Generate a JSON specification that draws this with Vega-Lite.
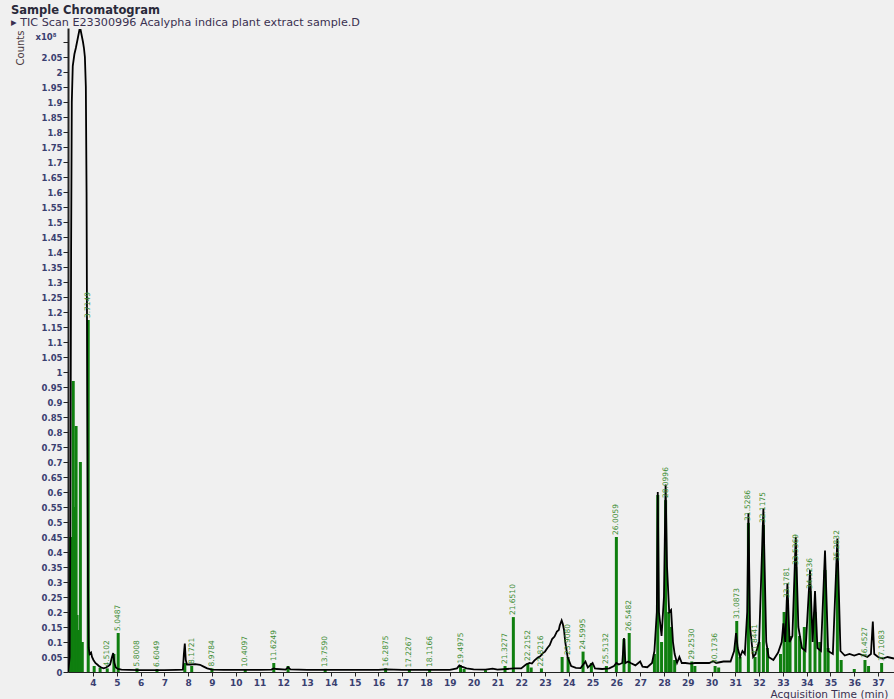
{
  "$schema": "https://vega.github.io/schema/vega-lite/v6.json",
  "width": 826,
  "height": 644,
  "autosize": {"type": "none"},
  "padding": {"left": 68, "top": 28, "right": 0, "bottom": 27},
  "background": "#f0f0f0",
  "title": {
    "text": "Sample Chromatogram",
    "subtitle": "▸ TIC Scan E23300996 Acalypha indica plant extract sample.D",
    "anchor": "start",
    "frame": "group",
    "dx": -57,
    "offset": 0,
    "font": "DejaVu Sans",
    "fontSize": 11.5,
    "fontWeight": "bold",
    "color": "#2a2a3a",
    "subtitleFont": "DejaVu Sans",
    "subtitleFontSize": 11.2,
    "subtitleColor": "#3a3050",
    "subtitlePadding": 0
  },
  "config": {
    "view": {"stroke": null},
    "axis": {"grid": false, "domainColor": "#222222", "tickColor": "#222222"}
  },
  "datasets": {
    "tic": [
      {"t": 2.96, "v": 0.0}, {"t": 3.02, "v": 0.05}, {"t": 3.05, "v": 0.5}, {"t": 3.08, "v": 1.4},
      {"t": 3.11, "v": 1.9}, {"t": 3.15, "v": 2.02}, {"t": 3.22, "v": 2.06}, {"t": 3.28, "v": 2.08},
      {"t": 3.33, "v": 2.1}, {"t": 3.38, "v": 2.12}, {"t": 3.43, "v": 2.14}, {"t": 3.48, "v": 2.14},
      {"t": 3.53, "v": 2.12}, {"t": 3.58, "v": 2.1}, {"t": 3.62, "v": 2.08}, {"t": 3.66, "v": 2.05},
      {"t": 3.7, "v": 1.95}, {"t": 3.73, "v": 1.6}, {"t": 3.76, "v": 0.9}, {"t": 3.79, "v": 0.3},
      {"t": 3.82, "v": 0.08}, {"t": 3.86, "v": 0.06}, {"t": 3.92, "v": 0.065}, {"t": 3.96, "v": 0.05},
      {"t": 4.02, "v": 0.04}, {"t": 4.1, "v": 0.03}, {"t": 4.18, "v": 0.025}, {"t": 4.25, "v": 0.02},
      {"t": 4.35, "v": 0.015}, {"t": 4.45, "v": 0.012}, {"t": 4.55, "v": 0.015}, {"t": 4.65, "v": 0.02},
      {"t": 4.72, "v": 0.025}, {"t": 4.8, "v": 0.05}, {"t": 4.85, "v": 0.063}, {"t": 4.9, "v": 0.03},
      {"t": 4.96, "v": 0.015}, {"t": 5.05, "v": 0.01}, {"t": 5.2, "v": 0.008}, {"t": 5.5, "v": 0.007},
      {"t": 6.0, "v": 0.006}, {"t": 6.5, "v": 0.006}, {"t": 7.0, "v": 0.006}, {"t": 7.5, "v": 0.007},
      {"t": 7.78, "v": 0.008}, {"t": 7.82, "v": 0.06}, {"t": 7.86, "v": 0.095}, {"t": 7.9, "v": 0.04},
      {"t": 7.95, "v": 0.025}, {"t": 8.1, "v": 0.025}, {"t": 8.3, "v": 0.026}, {"t": 8.5, "v": 0.024},
      {"t": 8.65, "v": 0.018}, {"t": 8.8, "v": 0.012}, {"t": 9.0, "v": 0.008}, {"t": 9.5, "v": 0.007},
      {"t": 10.0, "v": 0.007}, {"t": 10.5, "v": 0.007}, {"t": 11.0, "v": 0.007}, {"t": 11.5, "v": 0.008},
      {"t": 11.6, "v": 0.012}, {"t": 11.7, "v": 0.01}, {"t": 12.1, "v": 0.008}, {"t": 12.2, "v": 0.016},
      {"t": 12.3, "v": 0.009}, {"t": 13.0, "v": 0.007}, {"t": 14.0, "v": 0.007}, {"t": 15.0, "v": 0.007},
      {"t": 16.0, "v": 0.007}, {"t": 16.3, "v": 0.009}, {"t": 17.0, "v": 0.007}, {"t": 18.0, "v": 0.007},
      {"t": 19.0, "v": 0.007}, {"t": 19.3, "v": 0.012}, {"t": 19.4, "v": 0.022}, {"t": 19.5, "v": 0.018},
      {"t": 19.7, "v": 0.012}, {"t": 20.0, "v": 0.009}, {"t": 20.5, "v": 0.008}, {"t": 20.8, "v": 0.011},
      {"t": 21.0, "v": 0.008}, {"t": 21.4, "v": 0.01}, {"t": 21.7, "v": 0.012}, {"t": 22.0, "v": 0.012},
      {"t": 22.2, "v": 0.025}, {"t": 22.35, "v": 0.03}, {"t": 22.45, "v": 0.028}, {"t": 22.55, "v": 0.038},
      {"t": 22.7, "v": 0.048}, {"t": 22.8, "v": 0.052}, {"t": 22.9, "v": 0.062}, {"t": 23.0, "v": 0.068},
      {"t": 23.1, "v": 0.08}, {"t": 23.2, "v": 0.09}, {"t": 23.3, "v": 0.11}, {"t": 23.4, "v": 0.118},
      {"t": 23.5, "v": 0.135}, {"t": 23.58, "v": 0.14}, {"t": 23.62, "v": 0.155}, {"t": 23.7, "v": 0.172},
      {"t": 23.75, "v": 0.16}, {"t": 23.8, "v": 0.14}, {"t": 23.85, "v": 0.1}, {"t": 23.95, "v": 0.05},
      {"t": 24.1, "v": 0.02}, {"t": 24.3, "v": 0.014}, {"t": 24.5, "v": 0.013}, {"t": 24.7, "v": 0.035},
      {"t": 24.8, "v": 0.015}, {"t": 25.0, "v": 0.03}, {"t": 25.1, "v": 0.012}, {"t": 25.4, "v": 0.01},
      {"t": 25.7, "v": 0.012}, {"t": 25.9, "v": 0.02}, {"t": 26.0, "v": 0.03}, {"t": 26.1, "v": 0.025},
      {"t": 26.25, "v": 0.03}, {"t": 26.32, "v": 0.113}, {"t": 26.38, "v": 0.03}, {"t": 26.5, "v": 0.035},
      {"t": 26.6, "v": 0.03}, {"t": 26.8, "v": 0.022}, {"t": 27.0, "v": 0.035}, {"t": 27.1, "v": 0.018},
      {"t": 27.3, "v": 0.016}, {"t": 27.5, "v": 0.03}, {"t": 27.6, "v": 0.07}, {"t": 27.7, "v": 0.2},
      {"t": 27.74, "v": 0.6}, {"t": 27.79, "v": 0.2}, {"t": 27.9, "v": 0.12}, {"t": 28.0, "v": 0.25},
      {"t": 28.07, "v": 0.625}, {"t": 28.13, "v": 0.35}, {"t": 28.22, "v": 0.2}, {"t": 28.3, "v": 0.207},
      {"t": 28.38, "v": 0.1}, {"t": 28.45, "v": 0.06}, {"t": 28.55, "v": 0.03}, {"t": 28.65, "v": 0.05},
      {"t": 28.75, "v": 0.03}, {"t": 28.9, "v": 0.03}, {"t": 29.1, "v": 0.028}, {"t": 29.3, "v": 0.03},
      {"t": 29.6, "v": 0.03}, {"t": 29.9, "v": 0.03}, {"t": 30.07, "v": 0.036}, {"t": 30.2, "v": 0.03},
      {"t": 30.5, "v": 0.035}, {"t": 30.8, "v": 0.035}, {"t": 30.95, "v": 0.07}, {"t": 31.03, "v": 0.13},
      {"t": 31.1, "v": 0.08}, {"t": 31.2, "v": 0.05}, {"t": 31.3, "v": 0.07}, {"t": 31.4, "v": 0.06},
      {"t": 31.5, "v": 0.2}, {"t": 31.55, "v": 0.53}, {"t": 31.62, "v": 0.15}, {"t": 31.75, "v": 0.05},
      {"t": 31.85, "v": 0.06}, {"t": 32.0, "v": 0.1}, {"t": 32.18, "v": 0.545}, {"t": 32.3, "v": 0.1},
      {"t": 32.4, "v": 0.05}, {"t": 32.6, "v": 0.04}, {"t": 32.8, "v": 0.065}, {"t": 32.95, "v": 0.1},
      {"t": 33.02, "v": 0.162}, {"t": 33.1, "v": 0.1}, {"t": 33.19, "v": 0.295}, {"t": 33.28, "v": 0.1},
      {"t": 33.4, "v": 0.12}, {"t": 33.54, "v": 0.45}, {"t": 33.65, "v": 0.15}, {"t": 33.8, "v": 0.08},
      {"t": 33.95, "v": 0.07}, {"t": 34.14, "v": 0.34}, {"t": 34.25, "v": 0.1}, {"t": 34.35, "v": 0.27},
      {"t": 34.45, "v": 0.08}, {"t": 34.6, "v": 0.07}, {"t": 34.77, "v": 0.405}, {"t": 34.9, "v": 0.07},
      {"t": 35.1, "v": 0.06}, {"t": 35.29, "v": 0.445}, {"t": 35.42, "v": 0.07}, {"t": 35.6, "v": 0.055},
      {"t": 35.8, "v": 0.06}, {"t": 36.0, "v": 0.055}, {"t": 36.2, "v": 0.06}, {"t": 36.4, "v": 0.055},
      {"t": 36.55, "v": 0.05}, {"t": 36.7, "v": 0.06}, {"t": 36.78, "v": 0.168}, {"t": 36.84, "v": 0.06},
      {"t": 37.0, "v": 0.05}, {"t": 37.2, "v": 0.045}, {"t": 37.4, "v": 0.05}, {"t": 37.67, "v": 0.045}
    ],
    "peaks": [
      {"t": 3.06, "v": 0.45}, {"t": 3.17, "v": 0.97}, {"t": 3.22, "v": 0.55}, {"t": 3.29, "v": 0.82},
      {"t": 3.33, "v": 0.19}, {"t": 3.4, "v": 0.14}, {"t": 3.47, "v": 0.7}, {"t": 3.55, "v": 0.1},
      {"t": 3.8, "v": 1.173, "label": "3.7149"},
      {"t": 4.05, "v": 0.02}, {"t": 4.3, "v": 0.015}, {"t": 4.6, "v": 0.012, "label": "4.5102"},
      {"t": 4.88, "v": 0.06}, {"t": 5.06, "v": 0.13, "label": "5.0487"},
      {"t": 5.85, "v": 0.012, "label": "5.8008"}, {"t": 6.69, "v": 0.01, "label": "6.6049"},
      {"t": 7.86, "v": 0.03}, {"t": 8.15, "v": 0.02, "label": "8.1721"},
      {"t": 9.0, "v": 0.012, "label": "8.9784"}, {"t": 10.4, "v": 0.01, "label": "10.4097"},
      {"t": 11.6, "v": 0.03, "label": "11.6249"}, {"t": 12.2, "v": 0.02},
      {"t": 13.76, "v": 0.01, "label": "13.7590"}, {"t": 16.3, "v": 0.012, "label": "16.2875"},
      {"t": 17.3, "v": 0.008, "label": "17.2267"}, {"t": 18.15, "v": 0.01, "label": "18.1166"},
      {"t": 19.45, "v": 0.022, "label": "19.4975"}, {"t": 19.6, "v": 0.01}, {"t": 20.5, "v": 0.006},
      {"t": 21.32, "v": 0.02, "label": "21.3277"}, {"t": 21.67, "v": 0.183, "label": "21.6510"},
      {"t": 22.28, "v": 0.03, "label": "22.2152"}, {"t": 22.42, "v": 0.015},
      {"t": 22.85, "v": 0.012, "label": "22.8216"}, {"t": 23.72, "v": 0.05},
      {"t": 23.97, "v": 0.05, "label": "23.9080"}, {"t": 24.6, "v": 0.068, "label": "24.5995"},
      {"t": 24.95, "v": 0.03}, {"t": 25.58, "v": 0.02, "label": "25.5132"},
      {"t": 26.0, "v": 0.45, "label": "26.0059"}, {"t": 26.32, "v": 0.11},
      {"t": 26.54, "v": 0.13, "label": "26.5482"}, {"t": 27.6, "v": 0.06}, {"t": 27.74, "v": 0.59},
      {"t": 27.9, "v": 0.1}, {"t": 28.07, "v": 0.573, "label": "28.0996"}, {"t": 28.2, "v": 0.2},
      {"t": 28.3, "v": 0.15}, {"t": 28.45, "v": 0.04}, {"t": 29.17, "v": 0.035, "label": "29.2530"},
      {"t": 29.3, "v": 0.02}, {"t": 30.15, "v": 0.02, "label": "30.1736"}, {"t": 30.3, "v": 0.015},
      {"t": 31.06, "v": 0.17, "label": "31.0873"}, {"t": 31.2, "v": 0.05},
      {"t": 31.55, "v": 0.497, "label": "31.5286"}, {"t": 31.83, "v": 0.05, "label": "31.8441"},
      {"t": 32.0, "v": 0.1}, {"t": 32.18, "v": 0.49, "label": "32.1175"}, {"t": 32.35, "v": 0.08},
      {"t": 32.9, "v": 0.06}, {"t": 33.05, "v": 0.2}, {"t": 33.19, "v": 0.24, "label": "33.1781"},
      {"t": 33.3, "v": 0.12}, {"t": 33.54, "v": 0.35, "label": "33.5369"}, {"t": 33.7, "v": 0.12},
      {"t": 33.9, "v": 0.15}, {"t": 34.14, "v": 0.27, "label": "34.1236"}, {"t": 34.35, "v": 0.2},
      {"t": 34.55, "v": 0.1}, {"t": 34.77, "v": 0.34}, {"t": 34.9, "v": 0.08},
      {"t": 35.29, "v": 0.363, "label": "35.2832"}, {"t": 35.45, "v": 0.04}, {"t": 36.0, "v": 0.01},
      {"t": 36.45, "v": 0.04, "label": "36.4527"}, {"t": 36.6, "v": 0.02},
      {"t": 37.15, "v": 0.03, "label": "37.1083"}
    ]
  },
  "encoding": {
    "x": {
      "field": "t",
      "type": "quantitative",
      "scale": {"domain": [2.95, 37.67], "nice": false, "zero": false},
      "axis": {
        "values": [4,5,6,7,8,9,10,11,12,13,14,15,16,17,18,19,20,21,22,23,24,25,26,27,28,29,30,31,32,33,34,35,36,37],
        "title": "Acquisition Time (min)",
        "titleFont": "DejaVu Sans",
        "titleFontSize": 10.5,
        "titleFontWeight": "normal",
        "titleColor": "#3a3050",
        "titleX": 702,
        "titleY": 22,
        "titleAlign": "left",
        "titleBaseline": "middle",
        "labelFont": "DejaVu Sans",
        "labelFontSize": 9,
        "labelFontWeight": "bold",
        "labelColor": "#3a4070",
        "labelPadding": 2,
        "tickSize": 4,
        "domainWidth": 1.2
      }
    },
    "y": {
      "field": "v",
      "type": "quantitative",
      "scale": {"domain": [0, 2.1467], "nice": false},
      "axis": {
        "values": [0,0.05,0.1,0.15,0.2,0.25,0.3,0.35,0.4,0.45,0.5,0.55,0.6,0.65,0.7,0.75,0.8,0.85,0.9,0.95,1,1.05,1.1,1.15,1.2,1.25,1.3,1.35,1.4,1.45,1.5,1.55,1.6,1.65,1.7,1.75,1.8,1.85,1.9,1.95,2,2.05,2.1],
        "labelExpr": "datum.value > 2.09 ? 'x10⁸' : format(datum.value, '.2~f')",
        "labelOffset": {"condition": {"test": "datum.value > 2.09", "value": -6}, "value": 0},
        "labelPadding": {"condition": {"test": "datum.value > 2.09", "value": 7}, "value": 1},
        "labelFont": "DejaVu Sans",
        "labelFontSize": 8.5,
        "labelFontWeight": "bold",
        "labelColor": "#3a4070",
        "tickSize": 5,
        "domainWidth": 2,
        "title": "Counts",
        "titleFont": "DejaVu Sans",
        "titleFontSize": 10,
        "titleFontWeight": "normal",
        "titleColor": "#4a3a40",
        "titleAngle": 270,
        "titleAlign": "right",
        "titleBaseline": "middle",
        "titleX": -48,
        "titleY": 2
      }
    }
  },
  "layer": [
    {
      "data": {"name": "peaks"},
      "mark": {"type": "rule", "color": "#0f7f0f", "strokeWidth": 3, "clip": true},
      "encoding": {"y2": {"datum": 0}}
    },
    {
      "data": {"name": "tic"},
      "mark": {"type": "line", "color": "#000000", "strokeWidth": 1.8, "clip": true}
    },
    {
      "data": {"name": "peaks"},
      "transform": [{"filter": "datum.label != null"}],
      "mark": {"type": "text", "angle": 270, "align": "left", "baseline": "middle", "dx": 2, "font": "DejaVu Sans", "fontSize": 7.5, "color": "#3d8c35"},
      "encoding": {"text": {"field": "label"}}
    }
  ]
}
